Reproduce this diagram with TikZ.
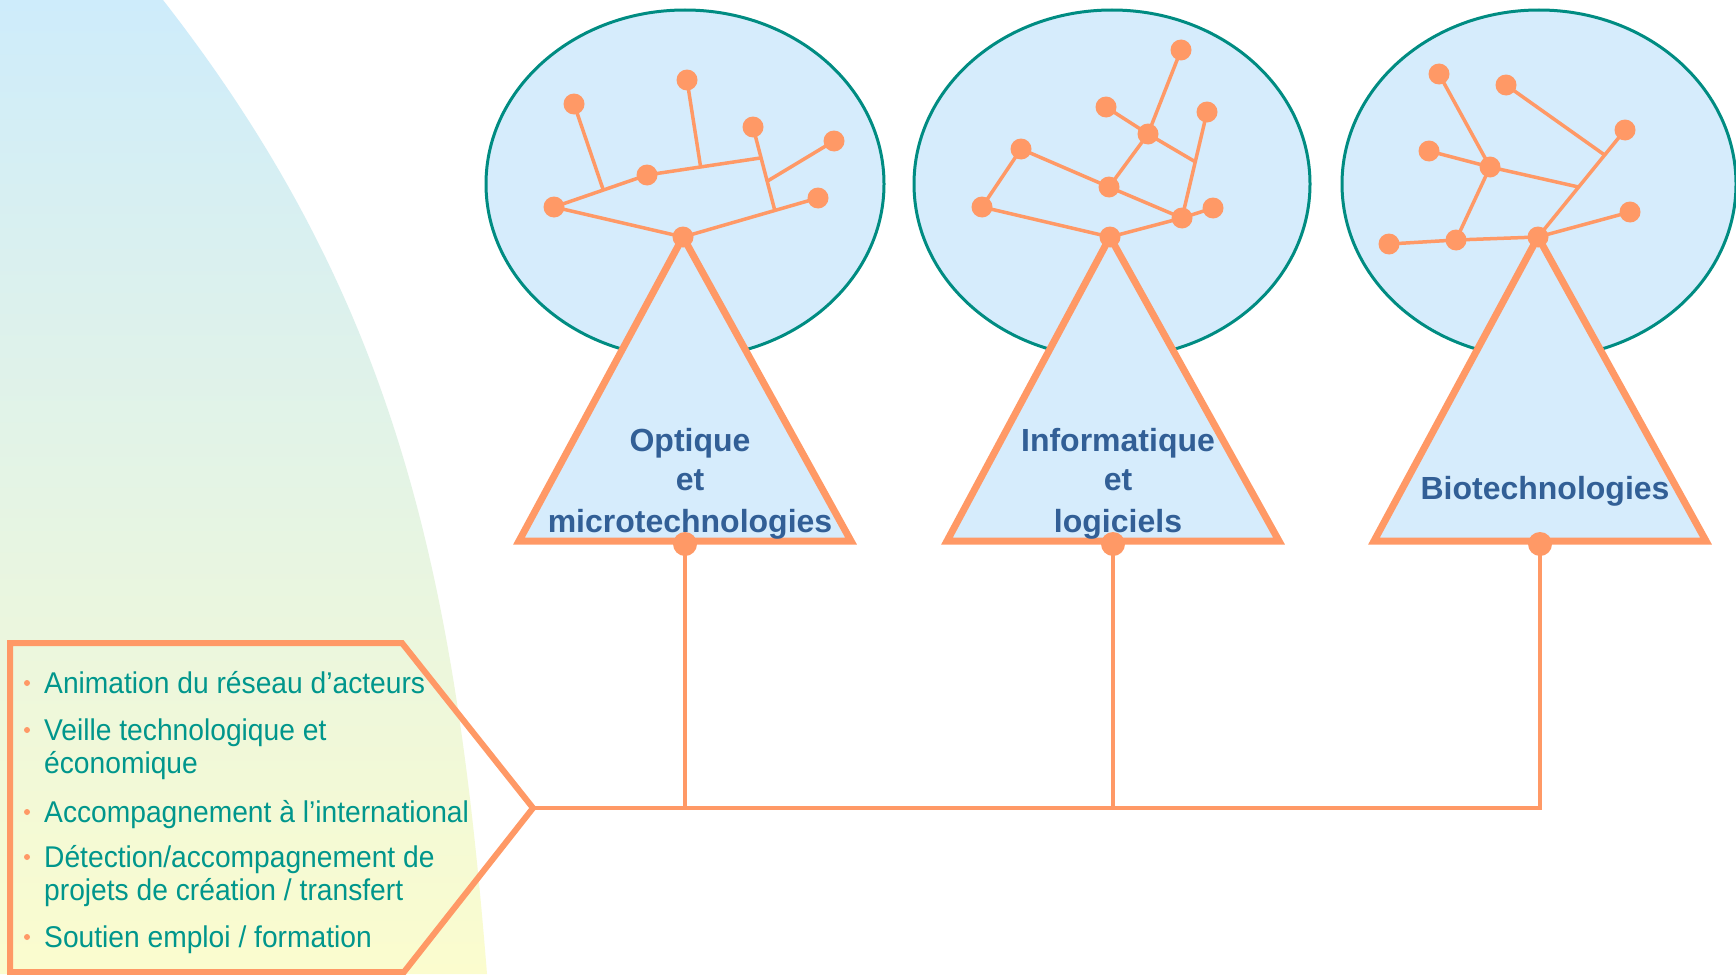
\documentclass[tikz,border=0pt]{standalone}
\usepackage{fontspec}
\setmainfont{Liberation Sans}
\newfontfamily\itemfont[FakeStretch=0.94]{Liberation Sans}
\usetikzlibrary{calc}
\definecolor{orng}{RGB}{255,153,102}
\definecolor{tealtxt}{RGB}{0,150,140}
\definecolor{tealline}{RGB}{0,140,130}
\definecolor{lblue}{RGB}{214,236,252}
\definecolor{lbl}{RGB}{50,95,150}
\definecolor{gtop}{RGB}{206,236,251}
\definecolor{gbot}{RGB}{251,252,206}
\begin{document}
\begin{tikzpicture}[x=1pt,y=-1pt,
  bubble/.style={draw=tealline,line width=3pt,fill=lblue},
  trishape/.style={draw=orng,line width=7pt,fill=lblue,line join=miter},
  branch/.style={draw=orng,line width=3.5pt},
  treedot/.style={circle,fill=orng,inner sep=0pt,minimum size=21pt},
  basedot/.style={circle,fill=orng,inner sep=0pt,minimum size=24pt},
  link/.style={draw=orng,line width=4pt,line join=miter},
  catlabel/.style={font=\fontsize{32}{40}\selectfont\bfseries,text=lbl,inner sep=0pt,anchor=base},
  itemtext/.style={font=\itemfont\fontsize{30}{33}\selectfont,text=tealtxt,inner sep=0pt,anchor=base west},
  bulletdot/.style={circle,fill=orng,inner sep=0pt,minimum size=6pt}]
\useasboundingbox (0,0) rectangle (1736,974);
\fill[white] (0,0) rectangle (1736,974);
% background gradient shape
\shade[top color=gtop,bottom color=gbot] (0,0) -- (163,0) .. controls (397,300) and (455,574) .. (487,974) -- (0,974) -- cycle;

% ellipses
\draw[bubble] (685,184) ellipse [x radius=199pt, y radius=174pt];
\draw[bubble] (1112,184) ellipse [x radius=198pt, y radius=174pt];
\draw[bubble] (1539,184) ellipse [x radius=197pt, y radius=174pt];

% tree points
\coordinate (a0) at (683,237);
\coordinate (a1) at (554,207);
\coordinate (a2) at (647,175);
\coordinate (a3) at (574,104);
\coordinate (a4) at (687,80);
\coordinate (a5) at (753,127);
\coordinate (a6) at (834,141);
\coordinate (a7) at (818,198);
\coordinate (b0) at (1110,237);
\coordinate (b1) at (982,207);
\coordinate (b2) at (1021,149);
\coordinate (b3) at (1109,187);
\coordinate (b4) at (1148,134);
\coordinate (b5) at (1106,107);
\coordinate (b6) at (1181,50);
\coordinate (b7) at (1207,112);
\coordinate (b8) at (1182,218);
\coordinate (b9) at (1213,208);
\coordinate (c0) at (1538,237);
\coordinate (c1) at (1389,244);
\coordinate (c2) at (1456,240);
\coordinate (c3) at (1490,167);
\coordinate (c4) at (1429,151);
\coordinate (c5) at (1439,74);
\coordinate (c6) at (1625,130);
\coordinate (c7) at (1630,212);
\coordinate (c8) at (1506,85);

% triangles
\draw[trishape] (a0) -- (519,541) -- (851,541) -- cycle;
\draw[trishape] (b0) -- (947,541) -- (1279,541) -- cycle;
\draw[trishape] (c0) -- (1374,541) -- (1706,541) -- cycle;

% junctions
\coordinate (ja) at ($(a1)!0.53!(a2)$);
\coordinate (jc) at ($(a0)!0.68!(a7)$);
\coordinate (jb) at ($(a5)!0.37!(jc)$);
\coordinate (jab) at ($(a2)!0.47!(jb)$);
\coordinate (jd) at ($(a5)!0.65!(jc)$);
\coordinate (kb) at ($(b7)!0.47!(b8)$);
\coordinate (kc1) at ($(c0)!0.467!(c6)$);
\coordinate (kc2) at ($(c0)!0.766!(c6)$);

% tree 1
\draw[branch] (a1) -- (a0) -- (a7);
\draw[branch] (a1) -- (a2) -- (jb);
\draw[branch] (a3) -- (ja);
\draw[branch] (a4) -- (jab);
\draw[branch] (a5) -- (jc);
\draw[branch] (a6) -- (jd);
% tree 2
\draw[branch] (b2) -- (b1) -- (b0) -- (b8) -- (b9);
\draw[branch] (b2) -- (b3) -- (b8);
\draw[branch] (b3) -- (b4) -- (b5);
\draw[branch] (b4) -- (b6);
\draw[branch] (b4) -- (kb);
\draw[branch] (b7) -- (b8);
% tree 3
\draw[branch] (c1) -- (c2) -- (c0) -- (c7);
\draw[branch] (c0) -- (c6);
\draw[branch] (c2) -- (c3) -- (c4);
\draw[branch] (c3) -- (c5);
\draw[branch] (c3) -- (kc1);
\draw[branch] (c8) -- (kc2);

% tree dots
\foreach \p in {a0,a1,a2,a3,a4,a5,a6,a7,b0,b1,b2,b3,b4,b5,b6,b7,b8,b9,c0,c1,c2,c3,c4,c5,c6,c7,c8}
  \node[treedot] (n\p) at (\p) {};

% labels
\node[catlabel] (l1a) at (690,451) {Optique};
\node[catlabel] (l1b) at (690,490) {et};
\node[catlabel] (l1c) at (690,532) {microtechnologies};
\node[catlabel] (l2a) at (1118,451) {Informatique};
\node[catlabel] (l2b) at (1118,490) {et};
\node[catlabel] (l2c) at (1118,532) {logiciels};
\node[catlabel] (l3a) at (1545,499) {Biotechnologies};

% base dots and links
\node[basedot] (d1) at (685,544) {};
\node[basedot] (d2) at (1113,544) {};
\node[basedot] (d3) at (1540,544) {};
\coordinate (tip) at (533,808);
\coordinate (j1) at (685,808);
\coordinate (j2) at (1113,808);
\coordinate (j3) at (1540,808);
\draw[link] (d1.center) -- (j1);
\draw[link] (d2.center) -- (j2);
\draw[link] (d3.center) -- (j3) -- (tip);

% pentagon
\draw[orng,line width=6pt,line join=miter] (10,643) -- (402,643) -- (tip) -- (404,972) -- (10,972) -- cycle;

% items
\node[bulletdot] (b1d) at (27,683) {};
\node[itemtext] (i1) at (44,693) {Animation du réseau d’acteurs};
\node[bulletdot] (b2d) at (27,730) {};
\node[itemtext] (i2a) at (44,740) {Veille technologique et};
\node[itemtext] (i2b) at (44,773) {économique};
\node[bulletdot] (b3d) at (27,812) {};
\node[itemtext] (i3) at (44,822) {Accompagnement à l’international};
\node[bulletdot] (b4d) at (27,857) {};
\node[itemtext] (i4a) at (44,867) {Détection/accompagnement de};
\node[itemtext] (i4b) at (44,900) {projets de création / transfert};
\node[bulletdot] (b5d) at (27,937) {};
\node[itemtext] (i5) at (44,947) {Soutien emploi / formation};
\end{tikzpicture}
\end{document}
